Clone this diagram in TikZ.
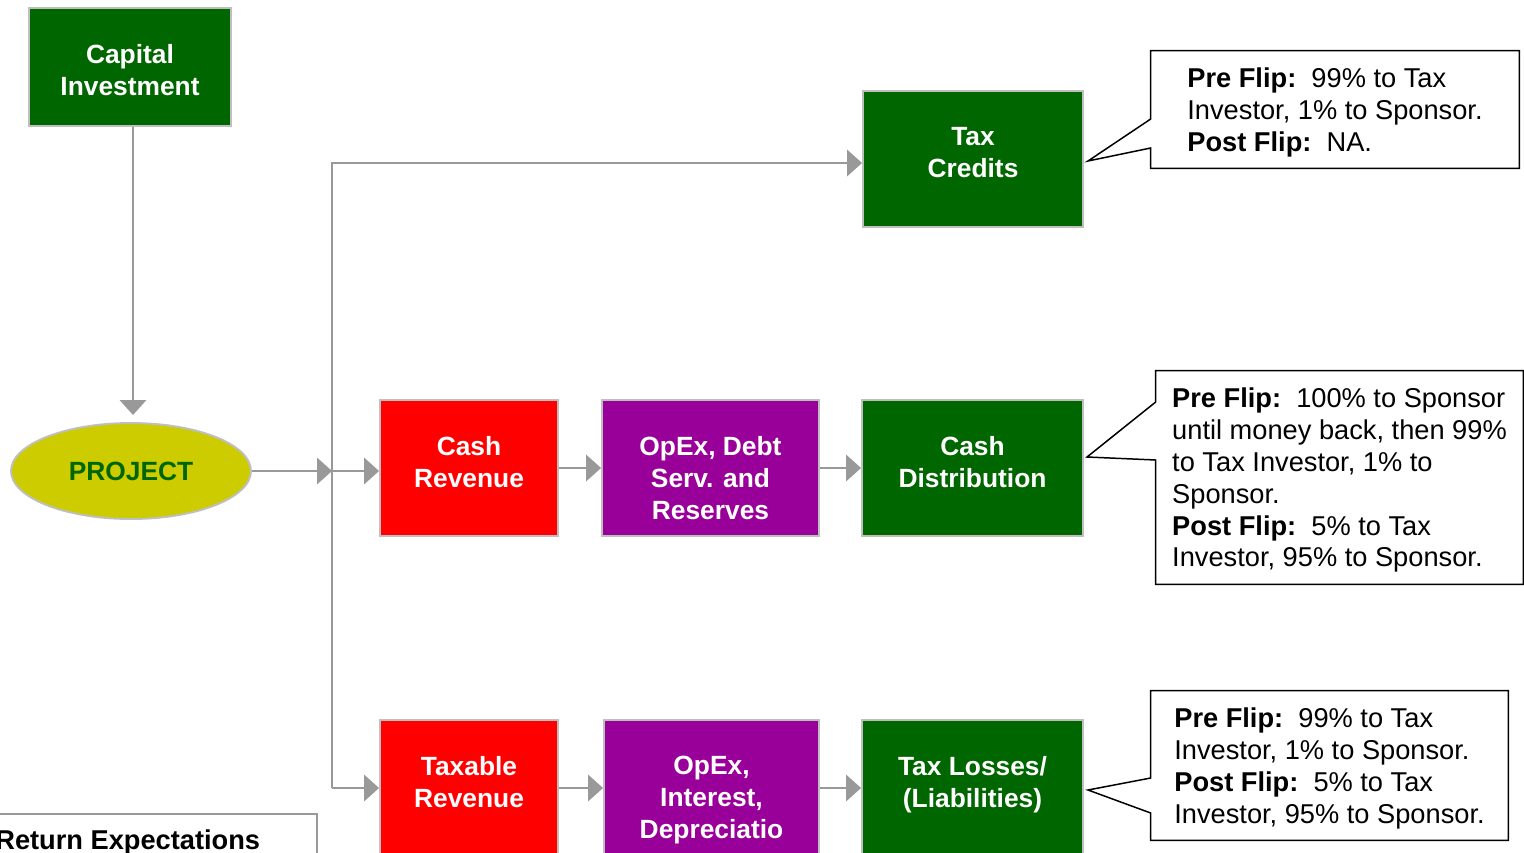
\documentclass[tikz,border=0pt]{standalone}
\usepackage{fontspec}
\setmainfont{Liberation Sans}
\usetikzlibrary{arrows.meta,shapes.geometric}

\definecolor{boxgreen}{HTML}{006600}
\definecolor{boxred}{HTML}{FF0000}
\definecolor{boxpurple}{HTML}{990099}
\definecolor{projyellow}{HTML}{CCCC00}
\definecolor{edgegray}{HTML}{BFBFBF}
\definecolor{linegray}{HTML}{999999}

\begin{document}
\begin{tikzpicture}[x=0.02cm,y=-0.02cm,
  blk/.style={draw=edgegray,line width=1.1pt,inner sep=0pt,minimum height=2.72cm},
  blktext/.style={anchor=north,yshift=-0.74cm,inner sep=0pt,text=white,align=center,
    font=\bfseries\fontsize{15}{18.1}\selectfont},
  flow/.style={draw=linegray,line width=1.1pt,-{Triangle[length=8.5pt,width=15pt]}},
  note/.style={inner sep=0pt,align=left,font=\fontsize{15.5}{18.1}\selectfont,text depth=-1.2pt},
  outline/.style={draw=black,line width=0.85pt}]
\useasboundingbox (0,0) rectangle (1524,852);
\clip (0,0) rectangle (1524,852);

% left side
\node[blk,fill=boxgreen,minimum width=4.04cm,minimum height=2.36cm,
  label={[blktext]north:{Capital\\Investment}}] (cap) at (130,67) {};
\node[ellipse,draw=edgegray,line width=1.1pt,fill=projyellow,minimum width=4.8cm,minimum height=1.92cm,
  inner sep=0pt,text=boxgreen,font=\bfseries\fontsize{15}{18.1}\selectfont] (proj) at (131,471) {PROJECT};

% boxes
\node[blk,fill=boxgreen,minimum width=4.4cm,label={[blktext]north:{Tax\\Credits}}] (taxcr) at (973,159) {};
\node[blk,fill=boxred,minimum width=3.56cm,label={[blktext]north:{Cash\\Revenue}}] (cashrev) at (469,468) {};
\node[blk,fill=boxpurple,minimum width=4.34cm,label={[blktext]north:{OpEx, Debt\\Serv. and\\Reserves}}] (opexdebt) at (710.5,468) {};
\node[blk,fill=boxgreen,minimum width=4.42cm,label={[blktext]north:{Cash\\Distribution}}] (cashdist) at (972.5,468) {};
\node[blk,fill=boxred,minimum width=3.56cm,label={[blktext]north:{Taxable\\Revenue}}] (taxrev) at (469,788) {};
\node[blk,fill=boxpurple,minimum width=4.3cm,label={[blktext]north:{OpEx,\\Interest,\\Depreciatio}}] (opexint) at (711.5,788) {};
\node[blk,fill=boxgreen,minimum width=4.42cm,label={[blktext]north:{Tax Losses/\\(Liabilities)}}] (taxloss) at (972.5,788) {};

% connectors
\coordinate (jtop) at (332,163);
\coordinate (jn) at (332,471);
\coordinate (jbot) at (332,788);
\draw[flow,shorten >=4pt] ([xshift=0.06cm]cap.south) -- ([xshift=0.04cm]proj.north);
\draw[flow] (proj.east) -- (proj.east -| jn);
\draw[flow] (jbot) -- (jtop) -- (jtop -| taxcr.west);
\draw[flow] (jn) -- (jn -| cashrev.west);
\draw[flow] (jbot) -- (taxrev.west);
\draw[flow] (cashrev) -- (opexdebt);
\draw[flow] (opexdebt) -- (cashdist);
\draw[flow] (taxrev) -- (opexint);
\draw[flow] (opexint) -- (taxloss);

% callouts
\node[note,minimum width=7.36cm,minimum height=2.34cm] (note1) at (1335,109.5)
  {\textbf{Pre Flip:}\ \ 99\% to Tax\\Investor, 1\% to Sponsor.\\\textbf{Post Flip:}\ \ NA.};
\coordinate (tip1) at (1088,161);
\draw[outline] (note1.north west) -- (note1.north east) -- (note1.south east) -- (note1.south west)
  -- (note1.west |- 0,148) -- (tip1) -- (note1.west |- 0,119) -- cycle;

\node[note,minimum width=7.34cm,minimum height=4.26cm] (note2) at (1339.5,477.5)
  {\textbf{Pre Flip:}\ \ 100\% to Sponsor\\until money back, then 99\%\\to Tax Investor, 1\% to\\Sponsor.\\\textbf{Post Flip:}\ \ 5\% to Tax\\Investor, 95\% to Sponsor.};
\coordinate (tip2) at (1087,457);
\draw[outline] (note2.north west) -- (note2.north east) -- (note2.south east) -- (note2.south west)
  -- (note2.west |- 0,460) -- (tip2) -- (note2.west |- 0,402) -- cycle;

\node[note,minimum width=7.14cm,minimum height=2.98cm] (note3) at (1329.5,765.5)
  {\textbf{Pre Flip:}\ \ 99\% to Tax\\Investor, 1\% to Sponsor.\\\textbf{Post Flip:}\ \ 5\% to Tax\\Investor, 95\% to Sponsor.};
\coordinate (tip3) at (1088,790);
\draw[outline] (note3.north west) -- (note3.north east) -- (note3.south east) -- (note3.south west)
  -- (note3.west |- 0,813) -- (tip3) -- (note3.west |- 0,778) -- cycle;

% return expectations
\node[draw=linegray,line width=1.1pt,anchor=north east,minimum width=7cm,minimum height=2cm,inner sep=0pt] (retbox) at (318,813) {};
\node[anchor=base west,inner sep=0pt,font=\bfseries\fontsize{15.5}{18.1}\selectfont] (rettext) at (-5,849) {Return Expectations};
\end{tikzpicture}
\end{document}
